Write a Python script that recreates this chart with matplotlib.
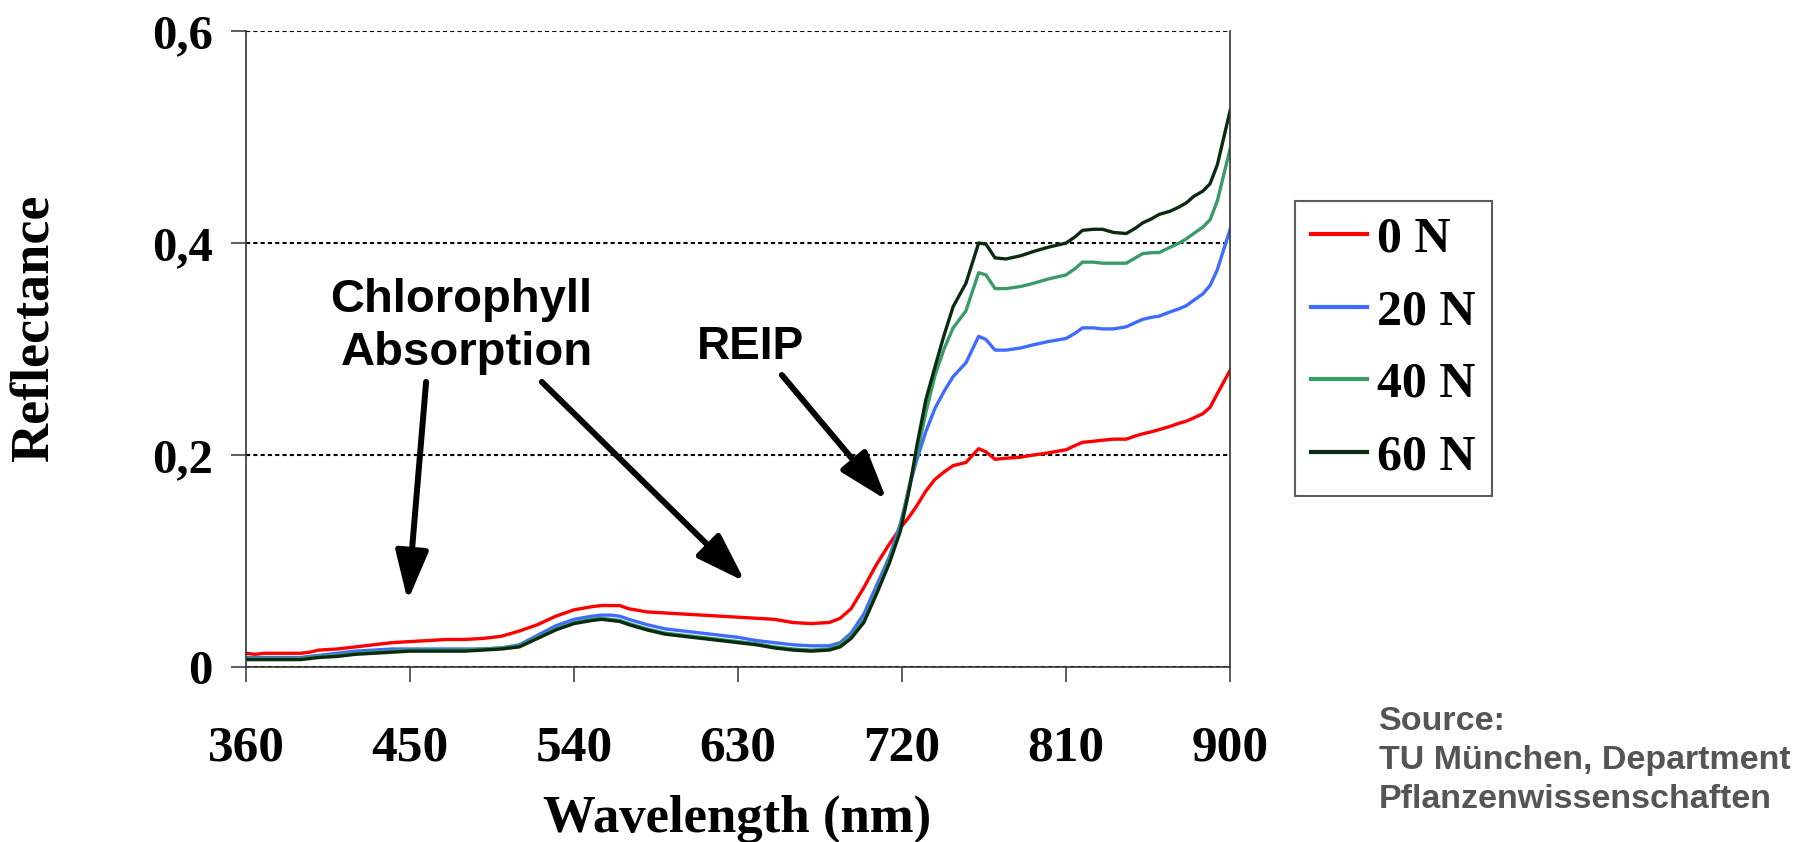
import matplotlib.pyplot as plt
from matplotlib.ticker import FixedLocator, FixedFormatter

# wavelength (nm) and reflectance for the four N rates
wl = [360, 365, 370, 380, 390, 395, 400, 410, 420, 430, 440, 450, 460, 470, 480,
      490, 500, 510, 520, 530, 540, 550, 555, 560, 565, 570, 580, 590, 600, 610,
      620, 630, 640, 650, 660, 670, 680, 686, 692, 699, 706, 713, 719, 724, 728,
      733, 738, 743, 748, 755, 762, 766, 771, 777, 785, 792, 800, 810, 815, 819,
      825, 830, 836, 843, 848, 852, 857, 861, 867, 872, 876, 880, 885, 889, 893, 900]

r_0n = [0.013, 0.012, 0.013, 0.013, 0.013, 0.014, 0.016, 0.017, 0.019, 0.021, 0.023, 0.024,
        0.025, 0.026, 0.026, 0.027, 0.029, 0.034, 0.040, 0.048, 0.054, 0.057, 0.058, 0.058,
        0.058, 0.055, 0.052, 0.051, 0.050, 0.049, 0.048, 0.047, 0.046, 0.045, 0.042, 0.041,
        0.042, 0.046, 0.055, 0.075, 0.097, 0.116, 0.131, 0.142, 0.152, 0.166, 0.177, 0.184,
        0.190, 0.193, 0.206, 0.203, 0.196, 0.197, 0.198, 0.200, 0.202, 0.205, 0.209, 0.212,
        0.213, 0.214, 0.215, 0.215, 0.218, 0.220, 0.222, 0.224, 0.227, 0.230, 0.232, 0.235,
        0.239, 0.245, 0.258, 0.280]

r_20n = [0.009, 0.009, 0.009, 0.009, 0.009, 0.010, 0.011, 0.013, 0.015, 0.016, 0.017, 0.017,
         0.017, 0.017, 0.017, 0.017, 0.018, 0.021, 0.030, 0.039, 0.045, 0.048, 0.049, 0.049,
         0.048, 0.045, 0.040, 0.036, 0.034, 0.032, 0.030, 0.028, 0.025, 0.023, 0.021, 0.020,
         0.020, 0.023, 0.032, 0.050, 0.077, 0.104, 0.135, 0.170, 0.195, 0.222, 0.244, 0.260,
         0.274, 0.287, 0.312, 0.309, 0.299, 0.299, 0.301, 0.304, 0.307, 0.310, 0.315, 0.320,
         0.320, 0.319, 0.319, 0.321, 0.325, 0.328, 0.330, 0.331, 0.335, 0.338, 0.341, 0.346,
         0.352, 0.360, 0.375, 0.413]

r_40n = [0.008, 0.008, 0.008, 0.008, 0.008, 0.009, 0.010, 0.011, 0.013, 0.014, 0.015, 0.016,
         0.016, 0.016, 0.016, 0.017, 0.018, 0.020, 0.028, 0.036, 0.042, 0.045, 0.046, 0.045,
         0.044, 0.041, 0.036, 0.032, 0.030, 0.028, 0.026, 0.024, 0.022, 0.019, 0.017, 0.016,
         0.017, 0.021, 0.029, 0.044, 0.071, 0.101, 0.131, 0.172, 0.200, 0.240, 0.275, 0.300,
         0.320, 0.336, 0.372, 0.370, 0.357, 0.357, 0.359, 0.362, 0.366, 0.370, 0.376, 0.382,
         0.382, 0.381, 0.381, 0.381, 0.386, 0.390, 0.391, 0.391, 0.396, 0.400, 0.404, 0.409,
         0.415, 0.422, 0.440, 0.489]

r_60n = [0.007, 0.007, 0.007, 0.007, 0.007, 0.008, 0.009, 0.010, 0.012, 0.013, 0.014, 0.015,
         0.015, 0.015, 0.015, 0.016, 0.017, 0.019, 0.027, 0.035, 0.041, 0.044, 0.045, 0.044,
         0.043, 0.040, 0.035, 0.031, 0.029, 0.027, 0.025, 0.023, 0.021, 0.018, 0.016, 0.015,
         0.016, 0.019, 0.027, 0.042, 0.069, 0.098, 0.128, 0.168, 0.208, 0.252, 0.283, 0.313,
         0.340, 0.362, 0.400, 0.399, 0.386, 0.385, 0.388, 0.392, 0.396, 0.400, 0.406, 0.412,
         0.413, 0.413, 0.410, 0.409, 0.414, 0.419, 0.423, 0.427, 0.430, 0.434, 0.438, 0.444,
         0.449, 0.456, 0.474, 0.525]

labels = ['0 N', '20 N', '40 N', '60 N']
colors = ['#ff0000', '#3f6cff', '#3a9a68', '#0b2b10']

xticks = [360, 450, 540, 630, 720, 810, 900]
yticks = [0, 0.2, 0.4, 0.6]
ytick_labels = ['0', '0,2', '0,4', '0,6']

serif = 'Liberation Serif'
sans = 'Liberation Sans'

fig = plt.figure(figsize=(18.2, 8.42), dpi=100)
ax = fig.add_axes([0.1352, 0.2078, 0.5407, 0.7553])

for ys, lab, c in zip([r_0n, r_20n, r_40n, r_60n], labels, colors):
    ax.plot(wl, ys, color=c, lw=2.4, label=lab)

ax.set_xlim(360, 900)
ax.set_ylim(0, 0.6)
ax.xaxis.set_major_locator(FixedLocator(xticks))
ax.yaxis.set_major_locator(FixedLocator(yticks))
ax.yaxis.set_major_formatter(FixedFormatter(ytick_labels))
ax.grid(axis='y', color='black', lw=1.5, linestyle=(0, (2, 1.5)))
ax.set_axisbelow(True)

for s in ['left', 'bottom', 'right']:
    ax.spines[s].set_color('#333333')
    ax.spines[s].set_linewidth(1.2)
ax.spines['top'].set_visible(False)
ax.tick_params(axis='x', direction='out', length=11, width=1.1, color='#333333', pad=31)
ax.tick_params(axis='y', direction='out', length=11, width=1.1, color='#333333', pad=13)
for t in ax.get_xticklabels():
    t.set_fontfamily(serif)
    t.set_fontweight('bold')
    t.set_fontsize(37)
for t in ax.get_yticklabels():
    t.set_fontfamily(serif)
    t.set_fontweight('bold')
    t.set_fontsize(35)

fig.text(0.405, 0.012, 'Wavelength (nm)', ha='center', va='baseline',
         fontfamily=serif, fontweight='bold', fontsize=38)
fig.text(0.0198, 0.61, 'Reflectance', ha='center', va='center', rotation=90,
         fontfamily=serif, fontweight='bold', fontsize=39)

# arrows and labels
ax.text(478, 0.335, 'Chlorophyll', ha='center', va='baseline',
        fontfamily=sans, fontweight='bold', fontsize=34)
ax.text(481, 0.285, 'Absorption', ha='center', va='baseline',
        fontfamily=sans, fontweight='bold', fontsize=34)
ax.text(637, 0.2906, 'REIP', ha='center', va='baseline',
        fontfamily=sans, fontweight='bold', fontsize=33)

arrows = [((458.8, 0.269), (448.7, 0.0625)),
          ((522.3, 0.269), (633.8, 0.0805)),
          ((654.0, 0.2755), (711.6, 0.1575))]
for tail, tip in arrows:
    ax.annotate('', xy=tip, xytext=tail,
                arrowprops=dict(arrowstyle='-|>,head_length=3.0,head_width=1.0',
                                mutation_scale=10, lw=4.3, color='black',
                                shrinkA=0, shrinkB=0))

leg = ax.legend(loc='upper left', bbox_to_anchor=(0.7115, 0.7616),
                bbox_transform=fig.transFigure, frameon=True, fancybox=False,
                borderaxespad=0, borderpad=0.32, handlelength=1.13,
                handletextpad=0.2, labelspacing=0.53,
                prop={'family': serif, 'weight': 'bold', 'size': 36})
leg.get_frame().set_edgecolor('#333333')
leg.get_frame().set_linewidth(1.5)
for h in leg.get_lines():
    h.set_linewidth(3)

src_lines = ['Source:', 'TU München, Department', 'Pflanzenwissenschaften']
for i, s in enumerate(src_lines):
    fig.text(1379 / 1820, 1 - (730 + 39 * i) / 842, s, ha='left', va='baseline',
             fontfamily=sans, fontweight='bold', fontsize=24.5, color='#555555')

fig.savefig('out.png', dpi=100)
